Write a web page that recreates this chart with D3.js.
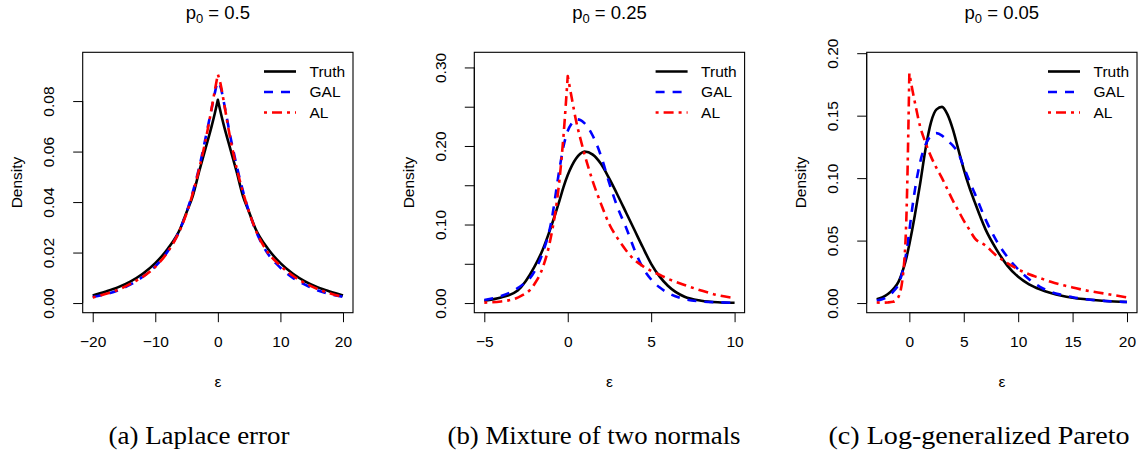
<!DOCTYPE html>
<html>
<head>
<meta charset="utf-8">
<script src="https://cdn.jsdelivr.net/npm/d3@7"></script>
<style>
  body { margin: 0; background: #ffffff; }
  svg text { font-family: "Liberation Sans", Arial, Helvetica, sans-serif; fill: #000; }
</style>
</head>
<body>
<svg id="chart" width="1144" height="453"></svg>
<script>
// ---------------- data ----------------
const seriesNames = ["Truth", "GAL", "AL"];
const titleValues = ["0.5", "0.25", "0.05"];
const captions = ["(a) Laplace error", "(b) Mixture of two normals", "(c) Log-generalized Pareto"];
const xAxisLabel = "ε";
const yAxisLabel = "Density";

// Panel (a): Laplace error
const lapX     = [-20, -18, -16, -14, -12, -10, -8, -6, -5, -4, -3, -2, -1, -0.5, 0, 0.5, 1, 2, 3, 4, 5, 6, 8, 10, 12, 14, 16, 18, 20];
const lapTruth = [0.0030, 0.0045, 0.0062, 0.0085, 0.0116, 0.0158, 0.0215, 0.0295, 0.0360, 0.0425, 0.0520, 0.0610, 0.0700, 0.0750, 0.0805, 0.0750, 0.0700, 0.0610, 0.0520, 0.0425, 0.0360, 0.0295, 0.0215, 0.0158, 0.0116, 0.0085, 0.0062, 0.0045, 0.0030];
const lapGAL   = [0.0024, 0.0034, 0.0050, 0.0073, 0.0104, 0.0145, 0.0205, 0.0295, 0.0360, 0.0440, 0.0535, 0.0650, 0.0770, 0.0830, 0.0875, 0.0850, 0.0790, 0.0660, 0.0545, 0.0445, 0.0360, 0.0290, 0.0195, 0.0140, 0.0100, 0.0072, 0.0050, 0.0035, 0.0025];
const lapAL    = [0.0022, 0.0036, 0.0052, 0.0076, 0.0104, 0.0143, 0.0203, 0.0292, 0.0355, 0.0435, 0.0530, 0.0640, 0.0770, 0.0840, 0.0906, 0.0860, 0.0790, 0.0650, 0.0535, 0.0440, 0.0360, 0.0292, 0.0200, 0.0148, 0.0108, 0.0078, 0.0055, 0.0038, 0.0024];

// Panel (b): mixture of two normals
const mixX     = [-5, -4, -3, -2, -1.5, -1, -0.5, -0.25, 0, 0.25, 0.5, 0.75, 1, 1.5, 2, 2.5, 3, 3.5, 4, 4.5, 5, 5.5, 6, 7, 8, 9, 10];
const mixTruth = [0.003, 0.007, 0.016, 0.046, 0.068, 0.097, 0.130, 0.148, 0.163, 0.175, 0.184, 0.190, 0.193, 0.189, 0.177, 0.158, 0.137, 0.115, 0.093, 0.071, 0.050, 0.034, 0.022, 0.008, 0.003, 0.001, 0.0004];
const mixGAL   = [0.004, 0.009, 0.019, 0.040, 0.064, 0.102, 0.170, 0.200, 0.219, 0.229, 0.234, 0.233, 0.229, 0.213, 0.187, 0.152, 0.121, 0.096, 0.068, 0.045, 0.030, 0.020, 0.013, 0.005, 0.002, 0.001, 0.0003];
const mixAL    = [0.0006, 0.002, 0.007, 0.024, 0.045, 0.085, 0.156, 0.214, 0.289, 0.260, 0.232, 0.210, 0.190, 0.155, 0.126, 0.100, 0.082, 0.067, 0.055, 0.047, 0.041, 0.036, 0.031, 0.023, 0.016, 0.010, 0.0062];

// Panel (c): log-generalized Pareto
const lgpX     = [-3, -2.5, -2, -1.5, -1, -0.5, -0.25, 0, 0.25, 0.5, 1, 1.5, 2, 2.5, 3, 3.5, 4, 4.5, 5, 5.5, 6, 7, 8, 9, 10, 11, 12, 13, 14, 15, 16, 18, 20];
const lgpTruth = [0.003, 0.0045, 0.007, 0.011, 0.017, 0.029, 0.037, 0.047, 0.058, 0.070, 0.096, 0.124, 0.145, 0.155, 0.157, 0.151, 0.139, 0.123, 0.107, 0.093, 0.081, 0.059, 0.043, 0.030, 0.021, 0.015, 0.011, 0.008, 0.0058, 0.0043, 0.0032, 0.0017, 0.0009];
const lgpGAL   = [0.002, 0.003, 0.005, 0.009, 0.015, 0.030, 0.042, 0.058, 0.075, 0.090, 0.113, 0.127, 0.134, 0.136, 0.134, 0.130, 0.126, 0.120, 0.109, 0.098, 0.088, 0.067, 0.050, 0.037, 0.027, 0.019, 0.013, 0.009, 0.0065, 0.0046, 0.0033, 0.0017, 0.0008];
const lgpAL    = [0.0004, 0.0003, 0.0005, 0.0010, 0.005, 0.030, 0.075, 0.184, 0.172, 0.161, 0.141, 0.128, 0.117, 0.108, 0.100, 0.091, 0.082, 0.074, 0.066, 0.059, 0.052, 0.046, 0.038, 0.032, 0.027, 0.023, 0.020, 0.017, 0.0145, 0.0125, 0.0105, 0.0075, 0.0045];

// ticks
const xTicksA = [-20, -10, 0, 10, 20];
const yTicksA = [0, 0.02, 0.04, 0.06, 0.08];
const yLabelsA = [0, 0.02, 0.04, 0.06, 0.08];
const xTicksB = [-5, 0, 5, 10];
const yTicksB = [0, 0.05, 0.10, 0.15, 0.20, 0.25, 0.30];
const yLabelsB = [0, 0.10, 0.20, 0.30];
const xTicksC = [0, 5, 10, 15, 20];
const yTicksC = [0, 0.05, 0.10, 0.15, 0.20];
const yLabelsC = [0, 0.05, 0.10, 0.15, 0.20];

// upper y limits used by the original plots (ylim = c(0, value))
const yUpper = [0.0955, 0.307, 0.193];

// ---------------- drawing ----------------
const panels = [
  { x: lapX, ys: [lapTruth, lapGAL, lapAL], cusp: [true, false, true], xt: xTicksA, yt: yTicksA, yl: yLabelsA },
  { x: mixX, ys: [mixTruth, mixGAL, mixAL], cusp: [false, false, true], xt: xTicksB, yt: yTicksB, yl: yLabelsB },
  { x: lgpX, ys: [lgpTruth, lgpGAL, lgpAL], cusp: [false, false, true], xt: xTicksC, yt: yTicksC, yl: yLabelsC }
];

const svg = d3.select("#chart");
svg.append("rect").attr("width", 1144).attr("height", 453).attr("fill", "#fff");

const boxLeft = [82.7, 474.3, 866.7];
const boxW = 270.3;
const boxTop = 52.3, boxBottom = 312.7;
const captionCenters = [199, 594, 979];
const captionWidths = [181, 293, 301];
const axisFont = 15.5;

const styles = [
  { color: "#000000", dash: null },
  { color: "#0000ff", dash: "9,8" },
  { color: "#ff0000", dash: "3,5,10,5" }
];
const lineW = 2.6;

panels.forEach((p, i) => {
  const L = boxLeft[i], R = L + boxW;
  const xExt = d3.extent(p.x);
  const xPad = 0.04 * (xExt[1] - xExt[0]);
  const x = d3.scaleLinear().domain([xExt[0] - xPad, xExt[1] + xPad]).range([L, R]);
  const yU = yUpper[i];
  const y = d3.scaleLinear().domain([-0.04 * yU, 1.04 * yU]).range([boxBottom, boxTop]);

  const g = svg.append("g");

  // curves
  const line = d3.line().x(d => x(d[0])).y(d => y(d[1])).curve(d3.curveMonotoneX);
  p.ys.forEach((vals, s) => {
    const pts = p.x.map((xv, k) => [xv, vals[k]]);
    let d;
    if (p.cusp[s]) {
      const k = d3.maxIndex(vals);
      const a = line(pts.slice(0, k + 1));
      const b = line(pts.slice(k));
      d = a + b.replace(/^M[^A-Z]*/, "");
    } else {
      d = line(pts);
    }
    const path = g.append("path")
      .attr("d", d)
      .attr("fill", "none")
      .attr("stroke", styles[s].color)
      .attr("stroke-width", lineW)
      .attr("stroke-linejoin", "round");
    if (styles[s].dash) path.attr("stroke-dasharray", styles[s].dash);
  });

  // box
  g.append("rect")
    .attr("x", L).attr("y", boxTop)
    .attr("width", boxW).attr("height", boxBottom - boxTop)
    .attr("fill", "none").attr("stroke", "#000").attr("stroke-width", 1.1);

  // x axis
  const xa = g.append("g").attr("transform", `translate(0,${boxBottom})`)
    .call(d3.axisBottom(x).tickValues(p.xt).tickSize(9.5).tickPadding(4)
      .tickFormat(d => d < 0 ? "\u2212" + Math.abs(d) : String(d)));
  xa.select(".domain").attr("d", `M${x(p.xt[0])},0H${x(p.xt[p.xt.length - 1])}`).attr("stroke", "#000");
  xa.selectAll(".tick line").attr("stroke", "#000");
  xa.selectAll(".tick text")
    .attr("font-size", axisFont)
    .attr("font-family", "Liberation Sans, Arial, sans-serif")
    .attr("y", 0).attr("dy", 0)
    .attr("transform", "translate(0,34.5)");

  // y axis
  const fmt = d3.format(".2f");
  const ya = g.append("g").attr("transform", `translate(${L},0)`)
    .call(d3.axisLeft(y).tickValues(p.yt).tickSize(9.5)
      .tickFormat(d => p.yl.some(v => Math.abs(v - d) < 1e-9) ? fmt(d) : ""));
  ya.select(".domain").attr("d", `M0,${y(p.yt[0])}V${y(p.yt[p.yt.length - 1])}`).attr("stroke", "#000");
  ya.selectAll(".tick line").attr("stroke", "#000");
  ya.selectAll(".tick text")
    .attr("font-size", axisFont)
    .attr("font-family", "Liberation Sans, Arial, sans-serif")
    .attr("text-anchor", "middle")
    .attr("x", 0).attr("y", 0).attr("dy", "0.35em")
    .attr("transform", "translate(-34,0) rotate(-90)");

  const cx = (L + R) / 2;
  const cy = (boxTop + boxBottom) / 2;

  // axis titles
  g.append("text")
    .attr("x", cx).attr("y", 387)
    .attr("text-anchor", "middle")
    .attr("font-size", axisFont)
    .text(xAxisLabel);
  g.append("text")
    .attr("transform", `translate(${L - 66},${cy}) rotate(-90)`)
    .attr("text-anchor", "middle")
    .attr("dy", "0.35em")
    .attr("font-size", axisFont)
    .text(yAxisLabel);

  // panel title p0 = value
  const t = g.append("text")
    .attr("x", cx).attr("y", 19)
    .attr("text-anchor", "middle")
    .attr("font-size", 18.5);
  t.append("tspan").text("p");
  t.append("tspan").attr("font-size", 13).attr("dy", 4).text("0");
  t.append("tspan").attr("dy", -4).text(" = " + titleValues[i]);

  // legend
  const rowsY = [71.5, 92, 112.5];
  seriesNames.forEach((name, s) => {
    const ly = rowsY[s];
    const l = g.append("line")
      .attr("x1", R - 89).attr("x2", R - 57)
      .attr("y1", ly).attr("y2", ly)
      .attr("stroke", styles[s].color)
      .attr("stroke-width", lineW);
    if (styles[s].dash) l.attr("stroke-dasharray", styles[s].dash);
    g.append("text")
      .attr("x", R - 43.5).attr("y", ly)
      .attr("dy", "0.35em")
      .attr("font-size", axisFont)
      .text(name);
  });

  // caption
  svg.append("text")
    .attr("x", captionCenters[i]).attr("y", 444)
    .attr("text-anchor", "middle")
    .attr("font-size", 25)
    .attr("textLength", captionWidths[i])
    .attr("lengthAdjust", "spacingAndGlyphs")
    .style("font-family", "'Liberation Serif', 'Times New Roman', serif")
    .text(captions[i]);
});
</script>
</body>
</html>
